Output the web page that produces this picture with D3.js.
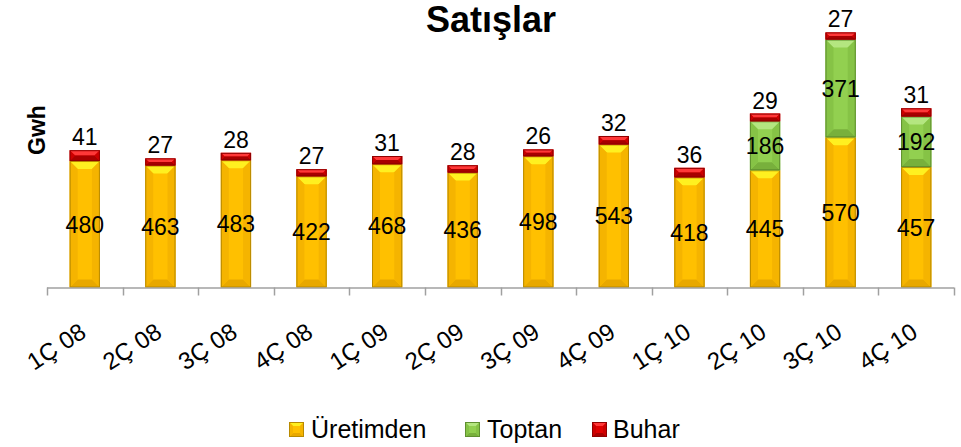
<!DOCTYPE html>
<html><head><meta charset="utf-8">
<script src="https://cdn.jsdelivr.net/npm/d3@7/dist/d3.min.js"></script>
<style>html,body{margin:0;padding:0;background:#fff;}svg{display:block;font-family:"Liberation Sans",Arial,sans-serif;}</style>
</head><body><svg id="c" width="961" height="447"></svg>
<script>
const categories = ["1Ç 08","2Ç 08","3Ç 08","4Ç 08","1Ç 09","2Ç 09","3Ç 09","4Ç 09","1Ç 10","2Ç 10","3Ç 10","4Ç 10"];
const uretimden = [480,463,483,422,468,436,498,543,418,445,570,457];
const toptan    = [0,0,0,0,0,0,0,0,0,186,371,192];
const buhar     = [41,27,28,27,31,28,26,32,36,29,27,31];
const seriesNames = ["Üretimden","Toptan","Buhar"];

const palette = {
  "Üretimden": {base:"#FFC000", top:"#FFF020", side:"#F5B400", bottom:"#E8A800", stroke:"#B88A00"},
  "Toptan":    {base:"#92D050", top:"#B4E680", side:"#86C346", bottom:"#78B03C", stroke:"#5F8F30"},
  "Buhar":     {base:"#E00000", top:"#FF3838", side:"#CC0000", bottom:"#A80000", stroke:"#900000"}
};

const svg = d3.select("#c");
const X0 = 47, X1 = 954, BASE = 287.5;
const x = d3.scaleBand().domain(categories).range([X0, X1]).paddingInner(0.6).paddingOuter(0.3);
const y = d3.scaleLinear().domain([0, 1000]).range([BASE, BASE - 263.5]);

const rows = categories.map((c,i)=>({cat:c, "Üretimden":uretimden[i], "Toptan":toptan[i], "Buhar":buhar[i]}));
const stacked = d3.stack().keys(seriesNames)(rows);

function bevel(g, x0, y0, w, h, col, bmax){
  const b = Math.min(bmax, w/2, h/2);
  const x1 = x0+w, y1 = y0+h;
  g.append("rect").attr("x",x0).attr("y",y0).attr("width",w).attr("height",h).attr("fill",col.base);
  const poly = (pts, f)=> g.append("polygon").attr("points", pts.map(p=>p.join(",")).join(" ")).attr("fill", f);
  poly([[x0,y0],[x1,y0],[x1-b,y0+b],[x0+b,y0+b]], col.top);
  poly([[x0,y1],[x1,y1],[x1-b,y1-b],[x0+b,y1-b]], col.bottom);
  poly([[x0,y0],[x0+b,y0+b],[x0+b,y1-b],[x0,y1]], col.side);
  poly([[x1,y0],[x1-b,y0+b],[x1-b,y1-b],[x1,y1]], col.side);
  g.append("rect").attr("x",x0+0.5).attr("y",y0+0.5).attr("width",Math.max(0,w-1)).attr("height",Math.max(0,h-1))
    .attr("fill","none").attr("stroke",col.stroke).attr("stroke-width",1);
}

const barsG = svg.append("g");
stacked.forEach(s=>{
  const col = palette[s.key];
  s.forEach((d,i)=>{
    if (d[1]-d[0] <= 0) return;
    bevel(barsG.append("g"), x(categories[i]), y(d[1]), x.bandwidth(), y(d[0])-y(d[1]), col, 8);
  });
});

// axis
const axisG = svg.append("g");
axisG.append("line").attr("x1",X0).attr("x2",X1).attr("y1",BASE+0.5).attr("y2",BASE+0.5).attr("stroke","#a0a0a0").attr("stroke-width",1.5);
const step = x.step();
d3.range(categories.length+1).forEach(k=>{
  const xx = Math.round(X0 + k*step) + 0.5;
  axisG.append("line").attr("x1",xx).attr("x2",xx).attr("y1",BASE).attr("y2",BASE+8).attr("stroke","#a0a0a0").attr("stroke-width",1.5);
});

// x labels
svg.append("g").selectAll("text").data(categories).join("text")
  .attr("transform", d=>`translate(${x(d)+x.bandwidth()/2+3},${336}) rotate(-33)`)
  .attr("text-anchor","end")
  .attr("font-size",24).attr("fill","#000").text(d=>d);

// value labels
const lab = svg.append("g").attr("font-size",23).attr("fill","#000").attr("text-anchor","middle");
stacked.forEach(s=>{
  s.forEach((d,i)=>{
    const v = d[1]-d[0];
    if (v<=0) return;
    const cx = x(categories[i]) + x.bandwidth()/2;
    if (s.key==="Buhar"){
      lab.append("text").attr("x",cx).attr("y",y(d[1])-5).text(v);
    } else {
      lab.append("text").attr("x",cx).attr("y",(y(d[0])+y(d[1]))/2).attr("dy","0.36em").text(v);
    }
  });
});

// title
svg.append("text").attr("x",491).attr("y",32).attr("text-anchor","middle").attr("font-size",36).attr("font-weight","bold").text("Satışlar");
// y label
svg.append("text").attr("transform","translate(45,130) rotate(-90)").attr("text-anchor","middle").attr("font-size",23).attr("font-weight","bold").text("Gwh");

// legend
const legendX = [289, 465, 592];
const legendTextX = [311, 487, 613];
const lg = svg.append("g");
seriesNames.forEach((name,i)=>{
  const g = lg.append("g");
  bevel(g, legendX[i], 422, 15, 15, palette[name], 4);
  g.append("text").attr("x",legendTextX[i]).attr("y",438).attr("font-size",25).text(name);
});
</script></body></html>
